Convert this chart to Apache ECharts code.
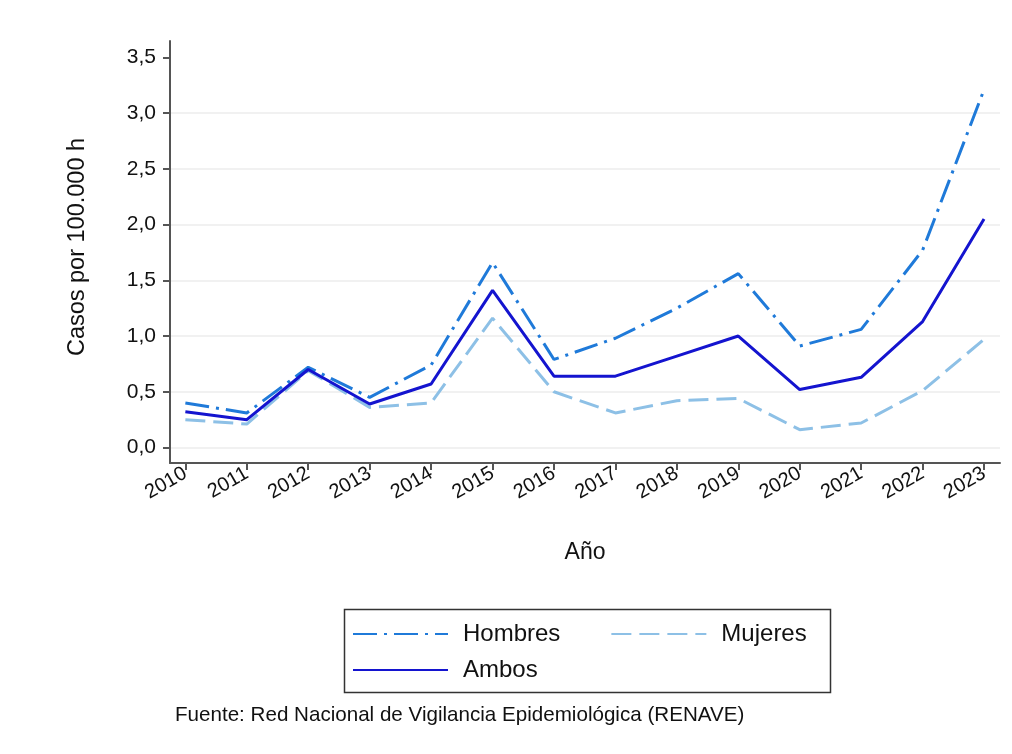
<!DOCTYPE html>
<html>
<head>
<meta charset="utf-8">
<script src="https://cdn.jsdelivr.net/npm/echarts@6/dist/echarts.min.js"></script>
<style>
html,body{margin:0;padding:0;background:#fff;}
#chart{width:1012px;height:754px;}
</style>
</head>
<body>
<div id="chart"></div>
<script>
const years = [2010,2011,2012,2013,2014,2015,2016,2017,2018,2019,2020,2021,2022,2023];
const hombres = [0.40,0.31,0.72,0.45,0.74,1.66,0.79,0.98,1.25,1.56,0.91,1.06,1.77,3.21];
const mujeres = [0.25,0.21,0.69,0.36,0.40,1.16,0.50,0.31,0.42,0.44,0.16,0.22,0.51,0.97];
const ambos   = [0.32,0.25,0.70,0.39,0.57,1.41,0.64,0.64,0.82,1.00,0.52,0.63,1.13,2.05];
const yTicks = [0,0.5,1.0,1.5,2.0,2.5,3.0,3.5];
const yGrid = [0,0.5,1.0,1.5,2.0,2.5,3.0];

const pair = arr => years.map((y,i)=>[y,arr[i]]);
const FONT = '"Liberation Sans", Arial, sans-serif';
const YMIN = -0.139, YMAX = 3.647;

const chart = echarts.init(document.getElementById('chart'));
chart.setOption({
  backgroundColor:'#ffffff',
  animation:false,
  grid:{left:170,right:12,top:41,bottom:291,containLabel:false},
  xAxis:{
    type:'value', min:2009.75, max:2023.26,
    name:'Año', nameLocation:'middle', nameGap:78,
    nameTextStyle:{fontFamily:FONT,fontSize:23,color:'#111'},
    axisLine:{show:true,onZero:false,lineStyle:{color:'#555',width:2}},
    axisTick:{show:true,customValues:years,length:7,lineStyle:{color:'#555',width:2}},
    axisLabel:{customValues:years,rotate:30,margin:9,fontFamily:FONT,fontSize:20,color:'#111',formatter:v=>String(v)},
    splitLine:{show:false}
  },
  yAxis:[{
    type:'value', min:YMIN, max:YMAX,
    name:'Casos por 100.000 h', nameLocation:'middle', nameGap:80,
    nameTextStyle:{fontFamily:FONT,fontSize:23.5,color:'#111',padding:[0,0,0,10]},
    axisLine:{show:true,onZero:false,lineStyle:{color:'#555',width:2}},
    axisTick:{show:true,customValues:yTicks,length:7,lineStyle:{color:'#555',width:2}},
    axisLabel:{customValues:yTicks,margin:14,fontFamily:FONT,fontSize:21,color:'#111',formatter:v=>v.toFixed(1).replace('.',',')},
    splitLine:{show:false},
    z:3
  },{
    type:'value', min:YMIN, max:YMAX, position:'left',
    axisLine:{show:false},
    axisTick:{show:false,customValues:yGrid},
    axisLabel:{show:false,customValues:yGrid},
    splitLine:{show:true,lineStyle:{color:'#ececec',width:1.5}},
    z:1
  }],
  legend:[
    {data:['Hombres','Mujeres'],left:352,top:622,padding:0,orient:'horizontal',itemWidth:95,itemHeight:14,itemGap:50,
     itemStyle:{opacity:0},
     textStyle:{fontFamily:FONT,fontSize:24,color:'#111',padding:[0,0,0,10]}},
    {data:['Ambos'],left:352,top:658,padding:0,orient:'horizontal',itemWidth:95,itemHeight:14,
     itemStyle:{opacity:0},
     textStyle:{fontFamily:FONT,fontSize:24,color:'#111',padding:[0,0,0,10]}}
  ],
  graphic:[
    {type:'rect',left:342,top:607,shape:{width:486,height:83},style:{fill:'none',stroke:'#333',lineWidth:1.5},silent:true},
    {type:'text',left:175,top:705,style:{text:'Fuente: Red Nacional de Vigilancia Epidemiológica (RENAVE)',font:'20.6px "Liberation Sans", Arial, sans-serif',fill:'#111'}}
  ],
  series:[
    {name:'Hombres',type:'line',data:pair(hombres),symbol:'none',z:3,
     lineStyle:{color:'#1f7ad9',width:3,type:[24,7,3,7]},itemStyle:{color:'#1f7ad9'}},
    {name:'Mujeres',type:'line',data:pair(mujeres),symbol:'none',z:2,
     lineStyle:{color:'#8dc0e6',width:3,type:[20,8]},itemStyle:{color:'#8dc0e6'}},
    {name:'Ambos',type:'line',data:pair(ambos),symbol:'none',z:4,
     lineStyle:{color:'#1414cf',width:3,type:'solid'},itemStyle:{color:'#1414cf'}}
  ]
});
</script>
</body>
</html>
